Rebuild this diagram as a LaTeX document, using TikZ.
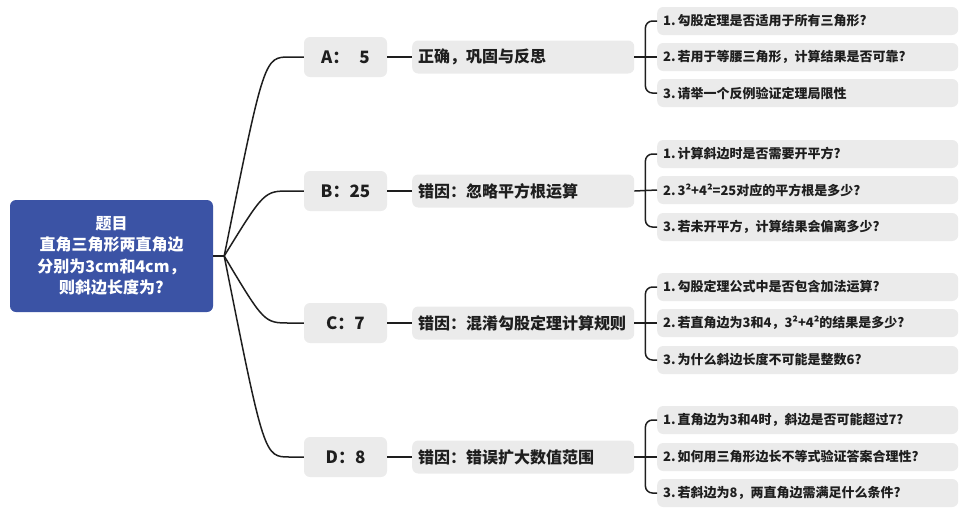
\documentclass[tikz,border=0pt]{standalone}
\usepackage{fontspec}
\setmainfont{Noto Sans CJK SC}
\usetikzlibrary{calc}
\definecolor{rootblue}{HTML}{3B53A5}
\definecolor{boxgray}{HTML}{EBEBEB}
\definecolor{ink}{HTML}{1E1E1E}
\tikzset{
  rootbox/.style={fill=rootblue, rounded corners=6pt, minimum width=203pt, minimum height=112pt,
    text=white, align=center, font=\bfseries\fontsize{16}{21.5}\selectfont},
  answer/.style={fill=boxgray, rounded corners=6pt, minimum width=83pt, minimum height=40pt,
    text=ink, font=\bfseries\fontsize{17}{19}\selectfont},
  reason/.style={fill=boxgray, rounded corners=6pt, anchor=west, minimum height=33pt,
    text width=210pt, inner xsep=6pt, align=left, text=ink, font=\bfseries\fontsize{16}{18}\selectfont},
  question/.style={fill=boxgray, rounded corners=6pt, anchor=west, minimum height=28pt,
    text width=289pt, inner xsep=6pt, align=left, text=ink, font=\bfseries\fontsize{13}{15}\selectfont},
  link/.style={draw=ink, line width=1.5pt},
}
\newcommand{\num}[1]{#1.\hspace{2pt}}
\begin{document}
\begin{tikzpicture}[x=1pt, y=-1pt]
    \useasboundingbox (0,0) rectangle (960,507);
    % root
    \node[rootbox] (root) at (111.5,256) {题目\\直角三角形两直角边\\分别为3cm和4cm，\\则斜边长度为?};
    \coordinate (hub) at ($(root.east)+(11,0)$);
    % answers
    \node[answer] (a) at (345.5,57) {A：\hspace{10pt}5};
    \node[answer] (b) at (345.5,191) {B：25};
    \node[answer] (c) at (345.5,323) {C：7};
    \node[answer] (d) at (345.5,457) {D：8};
    % reasons
    \node[reason] (ra) at (412,57) {正确，巩固与反思};
    \node[reason] (rb) at (412,191) {错因：忽略平方根运算};
    \node[reason] (rc) at (412,323) {错因：混淆勾股定理计算规则};
    \node[reason] (rd) at (412,457) {错因：错误扩大数值范围};
    % questions
    \node[question] (qa1) at (657,21) {\num{1}勾股定理是否适用于所有三角形?};
    \node[question] (qa2) at (657,57) {\num{2}若用于等腰三角形，计算结果是否可靠?};
    \node[question] (qa3) at (657,93) {\num{3}请举一个反例验证定理局限性};
    \node[question] (qb1) at (657,154) {\num{1}计算斜边时是否需要开平方?};
    \node[question] (qb2) at (657,190) {\num{2}3²+4²=25对应的平方根是多少?};
    \node[question] (qb3) at (657,227) {\num{3}若未开平方，计算结果会偏离多少?};
    \node[question] (qc1) at (657,287) {\num{1}勾股定理公式中是否包含加法运算?};
    \node[question] (qc2) at (657,323) {\num{2}若直角边为3和4，3²+4²的结果是多少?};
    \node[question] (qc3) at (657,360) {\num{3}为什么斜边长度不可能是整数6?};
    \node[question] (qd1) at (657,420) {\num{1}直角边为3和4时，斜边是否可能超过7?};
    \node[question] (qd2) at (657,457) {\num{2}如何用三角形边长不等式验证答案合理性?};
    \node[question] (qd3) at (657,493) {\num{3}若斜边为8，两直角边需满足什么条件?};
    % root to answers
    \draw[link] (root.east) -- (hub);
    \draw[link] (hub) .. controls ($(hub |- a)+(40,0)$) .. ($(a.west)+(-14,0)$) -- (a.west);
    \draw[link] (hub) .. controls ($(hub |- b)+(40,0)$) .. ($(b.west)+(-14,0)$) -- (b.west);
    \draw[link] (hub) .. controls ($(hub |- c)+(40,0)$) .. ($(c.west)+(-14,0)$) -- (c.west);
    \draw[link] (hub) .. controls ($(hub |- d)+(40,0)$) .. ($(d.west)+(-14,0)$) -- (d.west);
    % answers to reasons
    \draw[link] (a.east) -- (ra.west);
    \draw[link] (b.east) -- (rb.west);
    \draw[link] (c.east) -- (rc.west);
    \draw[link] (d.east) -- (rd.west);
    % reasons to questions
    \draw[link] (ra.east) -- (qa2.west);
    \draw[link, rounded corners=7pt] ($(ra.east)+(11,0)$) |- (qa1.west);
    \draw[link, rounded corners=7pt] ($(ra.east)+(11,0)$) |- (qa3.west);
    \draw[link] (rb.east) -- (qb2.west);
    \draw[link, rounded corners=7pt] ($(rb.east)+(11,0)$) |- (qb1.west);
    \draw[link, rounded corners=7pt] ($(rb.east)+(11,0)$) |- (qb3.west);
    \draw[link] (rc.east) -- (qc2.west);
    \draw[link, rounded corners=7pt] ($(rc.east)+(11,0)$) |- (qc1.west);
    \draw[link, rounded corners=7pt] ($(rc.east)+(11,0)$) |- (qc3.west);
    \draw[link] (rd.east) -- (qd2.west);
    \draw[link, rounded corners=7pt] ($(rd.east)+(11,0)$) |- (qd1.west);
    \draw[link, rounded corners=7pt] ($(rd.east)+(11,0)$) |- (qd3.west);
\end{tikzpicture}
\end{document}
